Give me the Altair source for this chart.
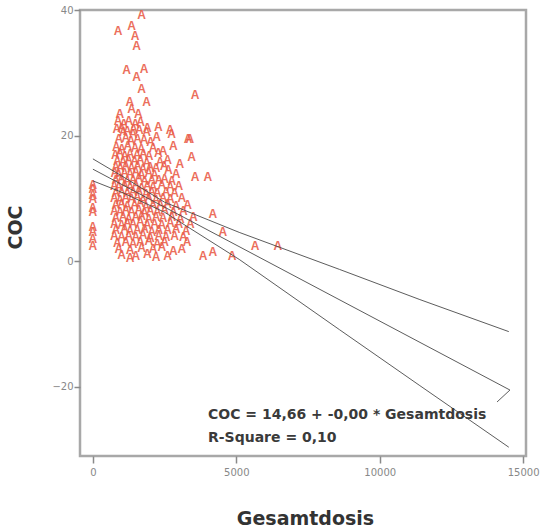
import altair as alt
import pandas as pd

# ---- scatter data (Gesamtdosis, COC) ----
outlier_x = [1700, 880, 1350, 1470, 1520, 1170, 1520, 1780, 1700, 3560, 1290, 1870, 1350, 940, 1580, 2280, 2690]
outlier_y = [39.2, 36.6, 37.4, 35.8, 34.2, 30.5, 29.4, 30.6, 27.5, 26.5, 25.4, 25.4, 24.3, 23.5, 23.5, 21.4, 20.9]

zero_x = [0, 0, 0, 0, 0, 0, 0, 0, 0, 0]
zero_y = [12.2, 11.5, 10.5, 9.9, 8.5, 7.8, 5.5, 4.6, 3.5, 2.5]

right_x = [3380, 3440, 3560, 4010, 3030, 2630, 2340, 2800, 3320, 2740, 2220, 1870, 1400, 1060,
           4180, 4530, 5650, 6450, 3280, 3840, 4180, 4850]
right_y = [19.5, 16.6, 13.4, 13.4, 15.5, 14.5, 15.8, 18.4, 19.5, 20.3, 19.8, 20.6, 20.3, 20.6,
           7.5, 4.6, 2.4, 2.4, 3.0, 0.8, 1.4, 0.8]

cluster_x = [
    880, 1080, 1250, 1480, 1660,
    830, 1000, 1200, 1420, 1620, 1900,
    900, 1150, 1330, 1560, 1780, 2010,
    820, 1010, 1220, 1470, 1690, 2100, 2450,
    780, 940, 1110, 1300, 1540, 1760, 1960, 2280,
    850, 1050, 1240, 1450, 1650, 1880, 2600,
    800, 960, 1150, 1350, 1560, 1750, 1990, 2200, 2480,
    760, 900, 1100, 1300, 1500, 1700, 1950, 2150, 2900,
    800, 1000, 1200, 1400, 1600, 1800, 2050, 2300, 2500, 2750,
    750, 900, 1100, 1300, 1500, 1700, 1900, 2100, 2400, 2700, 3000,
    800, 1000, 1200, 1400, 1600, 1850, 2050, 2250, 2550, 2850,
    750, 950, 1150, 1350, 1550, 1750, 1950, 2200, 2450, 2700, 3100,
    800, 1000, 1200, 1450, 1650, 1850, 2100, 2350, 2600, 2900, 3300,
    750, 950, 1150, 1350, 1600, 1800, 2000, 2250, 2500, 2800, 3150,
    800, 1050, 1250, 1500, 1700, 1950, 2200, 2450, 2750, 3050, 3500,
    750, 1000, 1200, 1400, 1650, 1900, 2150, 2400, 2700, 3000, 3400,
    800, 1100, 1300, 1550, 1800, 2050, 2300, 2600, 2900, 3250,
    750, 1000, 1250, 1500, 1750, 2000, 2300, 2550, 2850, 3150,
    850, 1150, 1400, 1650, 1950, 2250, 2500,
    900, 1300, 1700, 2100, 2400, 2800, 3100,
    1000, 1500, 1900, 2600,
    1300, 2200,
]
cluster_y = [
    22.3, 21.8, 22.4, 21.9, 22.1,
    21.0, 21.2, 20.8, 21.1, 20.9, 21.2,
    19.4, 19.6, 19.2, 19.5, 19.3, 19.0,
    18.2, 17.9, 18.3, 18.0, 17.8, 18.1, 17.6,
    16.9, 17.2, 16.8, 17.1, 16.9, 17.0, 16.7, 17.2,
    16.0, 15.8, 16.1, 15.9, 16.2, 15.7, 16.1,
    15.0, 14.8, 15.1, 14.9, 15.2, 14.7, 15.0, 14.8, 15.1,
    14.0, 13.8, 14.1, 13.9, 14.2, 13.7, 14.0, 13.8, 13.9,
    12.9, 13.1, 12.8, 13.0, 13.2, 12.7, 13.0, 12.9, 13.1, 12.8,
    12.0, 11.8, 12.1, 11.9, 12.2, 11.7, 12.0, 11.8, 12.1, 11.9, 12.0,
    10.9, 11.1, 10.8, 11.0, 11.2, 10.7, 11.0, 10.9, 11.1, 10.8,
    10.0, 9.8, 10.1, 9.9, 10.2, 9.7, 10.0, 9.8, 10.1, 9.9, 10.0,
    8.9, 9.1, 8.8, 9.0, 9.2, 8.7, 9.0, 8.9, 9.1, 8.8, 9.0,
    8.0, 7.8, 8.1, 7.9, 8.2, 7.7, 8.0, 7.8, 8.1, 7.9, 8.0,
    6.9, 7.1, 6.8, 7.0, 7.2, 6.7, 7.0, 6.9, 7.1, 6.8, 7.0,
    6.0, 5.8, 6.1, 5.9, 6.2, 5.7, 6.0, 5.8, 6.1, 5.9, 6.0,
    4.9, 5.1, 4.8, 5.0, 5.2, 4.7, 5.0, 4.9, 5.1, 4.8,
    4.0, 3.8, 4.1, 3.9, 4.2, 3.7, 4.0, 3.8, 4.1, 3.9,
    2.9, 3.1, 2.8, 3.0, 3.2, 2.7, 3.0,
    2.0, 1.8, 2.1, 1.9, 2.2, 1.7, 2.0,
    1.0, 0.8, 1.1, 0.9,
    0.5, 0.6,
]

# ---- fit line and confidence bands ----
fit_x = [0, 14540]
fit_y = [14.66, -20.5]
hook_x = [14540, 14090]
hook_y = [-20.5, -22.4]
upper_x = [0, 1000, 2500, 5100, 8600, 11400, 14500]
upper_y = [16.3, 13.6, 9.4, 4.6, -1.3, -6.1, -11.2]
lower_x = [0, 1000, 2500, 5100, 8600, 11400, 14500]
lower_y = [12.8, 11.0, 7.8, 0.3, -10.9, -19.8, -29.6]

x_ticks = [0, 5000, 10000, 15000]
y_ticks = [-20, 0, 20, 40]

pts = pd.DataFrame({
    "Gesamtdosis": outlier_x + zero_x + right_x + cluster_x,
    "COC": outlier_y + zero_y + right_y + cluster_y,
})

lines = pd.DataFrame({
    "Gesamtdosis": fit_x + hook_x + upper_x + lower_x,
    "COC": fit_y + hook_y + upper_y + lower_y,
    "series": ["fit"] * len(fit_x) + ["hook"] * len(hook_x) + ["upper"] * len(upper_x) + ["lower"] * len(lower_x),
    "ord": list(range(len(fit_x))) + list(range(len(hook_x))) + list(range(len(upper_x))) + list(range(len(lower_x))),
})

xscale = alt.Scale(domain=[-450, 15100], nice=False, zero=False)
yscale = alt.Scale(domain=[-31, 40], nice=False, zero=False)

xaxis = alt.Axis(values=x_ticks, format="d", title="Gesamtdosis", grid=False, domain=False,
                 tickSize=7, tickWidth=1.5, tickColor="#8a8a8a",
                 labelFont="DejaVu Sans", labelFontSize=10, labelColor="#888888", labelPadding=4,
                 titleFont="DejaVu Sans", titleFontSize=19, titleFontWeight="bold", titleColor="#333333",
                 titleX=225, titleY=68, titleBaseline="alphabetic", titleAlign="center")
yaxis = alt.Axis(values=y_ticks, format="d", title="COC", grid=False, domain=False,
                 tickSize=6, tickWidth=1.5, tickColor="#8a8a8a",
                 labelFont="DejaVu Sans", labelFontSize=10, labelColor="#888888", labelPadding=1,
                 titleFont="DejaVu Sans", titleFontSize=19, titleFontWeight="bold", titleColor="#333333",
                 titleX=-65, titleY=217, titleBaseline="middle", titleAlign="center", titleAngle=-90)

points = alt.Chart(pts).mark_text(text="A", font="Liberation Sans", fontSize=12, fontWeight="bold",
                                  color="#ea5f4c", opacity=0.9, baseline="middle", align="center").encode(
    x=alt.X("Gesamtdosis:Q", scale=xscale, axis=xaxis),
    y=alt.Y("COC:Q", scale=yscale, axis=yaxis),
)

reg = alt.Chart(lines).mark_line(color="#4a4a4a", strokeWidth=0.9).encode(
    x=alt.X("Gesamtdosis:Q", scale=xscale),
    y=alt.Y("COC:Q", scale=yscale),
    detail="series:N",
    order="ord:Q",
)

eq1 = alt.Chart(pd.DataFrame({"t": ["COC = 14,66 + -0,00 * Gesamtdosis"]})).mark_text(
    font="DejaVu Sans", fontSize=14, fontWeight="bold", color="#3a3a3a", align="left", baseline="middle").encode(
    text="t:N", x=alt.value(128), y=alt.value(405))
eq2 = alt.Chart(pd.DataFrame({"t": ["R-Square = 0,10"]})).mark_text(
    font="DejaVu Sans", fontSize=14, fontWeight="bold", color="#3a3a3a", align="left", baseline="middle").encode(
    text="t:N", x=alt.value(128), y=alt.value(428))

chart = alt.layer(points, reg, eq1, eq2).properties(
    width=446, height=446,
    autosize=alt.AutoSizeParams(type="none"),
    padding={"left": 80, "top": 10, "right": 16, "bottom": 73},
    background="white",
).configure_view(stroke="#a8a8a8", strokeWidth=2.5)

chart.save("out.html", embed_options={"renderer": "svg", "actions": False})
